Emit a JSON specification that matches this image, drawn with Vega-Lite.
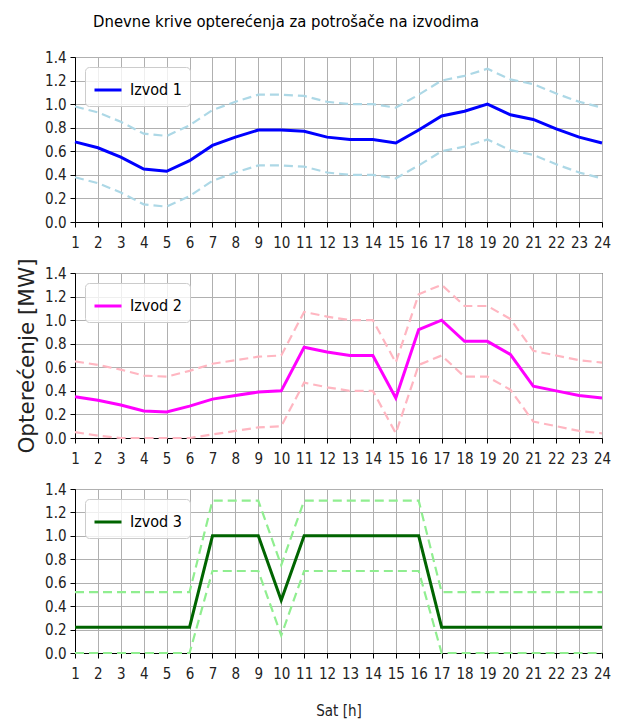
{
  "$schema": "https://vega.github.io/schema/vega-lite/v6.json",
  "background": "white",
  "padding": {"left": 16, "top": 14, "right": 10, "bottom": 5},
  "title": {"text": "Dnevne krive opterećenja za potrošače na izvodima", "anchor": "start", "dx": 77, "font": "DejaVu Sans Condensed, sans-serif", "fontSize": 16.5, "fontWeight": "normal", "color": "black", "offset": 19},
  "config": {
    "view": {"stroke": "black", "strokeWidth": 1},
    "axis": {"domainColor": "black", "tickColor": "black", "tickSize": 5, "labelFont": "DejaVu Sans Condensed, sans-serif", "labelFontSize": 15, "labelColor": "#222222", "labelOverlap": false, "labelFlush": false, "gridColor": "#b0b0b0", "gridWidth": 1, "grid": true, "titleFontWeight": "normal", "titleColor": "#222222"},
    "axisX": {"labelPadding": 8},
    "axisY": {"labelPadding": 4},
    "legend": {"orient": "top-left", "offset": 10, "padding": 8, "fillColor": "rgba(255,255,255,0.8)", "strokeColor": "#cccccc", "cornerRadius": 4, "symbolType": "stroke", "symbolSize": 729, "symbolStrokeWidth": 3, "labelFont": "DejaVu Sans Condensed, sans-serif", "labelFontSize": 16, "labelOffset": 7, "labelColor": "black", "title": null}
  },
  "datasets": {
    "d": [
      {"izvod": "Izvod 1", "sat": 1, "p": 0.68, "lo": 0.38, "hi": 0.98},
      {"izvod": "Izvod 1", "sat": 2, "p": 0.63, "lo": 0.33, "hi": 0.93},
      {"izvod": "Izvod 1", "sat": 3, "p": 0.55, "lo": 0.25, "hi": 0.85},
      {"izvod": "Izvod 1", "sat": 4, "p": 0.45, "lo": 0.15, "hi": 0.75},
      {"izvod": "Izvod 1", "sat": 5, "p": 0.43, "lo": 0.13, "hi": 0.73},
      {"izvod": "Izvod 1", "sat": 6, "p": 0.52, "lo": 0.22, "hi": 0.82},
      {"izvod": "Izvod 1", "sat": 7, "p": 0.65, "lo": 0.35, "hi": 0.95},
      {"izvod": "Izvod 1", "sat": 8, "p": 0.72, "lo": 0.42, "hi": 1.02},
      {"izvod": "Izvod 1", "sat": 9, "p": 0.78, "lo": 0.48, "hi": 1.08},
      {"izvod": "Izvod 1", "sat": 10, "p": 0.78, "lo": 0.48, "hi": 1.08},
      {"izvod": "Izvod 1", "sat": 11, "p": 0.77, "lo": 0.47, "hi": 1.07},
      {"izvod": "Izvod 1", "sat": 12, "p": 0.72, "lo": 0.42, "hi": 1.02},
      {"izvod": "Izvod 1", "sat": 13, "p": 0.70, "lo": 0.40, "hi": 1.00},
      {"izvod": "Izvod 1", "sat": 14, "p": 0.70, "lo": 0.40, "hi": 1.00},
      {"izvod": "Izvod 1", "sat": 15, "p": 0.67, "lo": 0.37, "hi": 0.97},
      {"izvod": "Izvod 1", "sat": 16, "p": 0.78, "lo": 0.48, "hi": 1.08},
      {"izvod": "Izvod 1", "sat": 17, "p": 0.90, "lo": 0.60, "hi": 1.20},
      {"izvod": "Izvod 1", "sat": 18, "p": 0.94, "lo": 0.64, "hi": 1.24},
      {"izvod": "Izvod 1", "sat": 19, "p": 1.00, "lo": 0.70, "hi": 1.30},
      {"izvod": "Izvod 1", "sat": 20, "p": 0.91, "lo": 0.61, "hi": 1.21},
      {"izvod": "Izvod 1", "sat": 21, "p": 0.87, "lo": 0.57, "hi": 1.17},
      {"izvod": "Izvod 1", "sat": 22, "p": 0.79, "lo": 0.49, "hi": 1.09},
      {"izvod": "Izvod 1", "sat": 23, "p": 0.72, "lo": 0.42, "hi": 1.02},
      {"izvod": "Izvod 1", "sat": 24, "p": 0.67, "lo": 0.37, "hi": 0.97},
      {"izvod": "Izvod 2", "sat": 1, "p": 0.35, "lo": 0.05, "hi": 0.65},
      {"izvod": "Izvod 2", "sat": 2, "p": 0.32, "lo": 0.02, "hi": 0.62},
      {"izvod": "Izvod 2", "sat": 3, "p": 0.28, "lo": 0.0, "hi": 0.58},
      {"izvod": "Izvod 2", "sat": 4, "p": 0.23, "lo": 0.0, "hi": 0.53},
      {"izvod": "Izvod 2", "sat": 5, "p": 0.22, "lo": 0.0, "hi": 0.52},
      {"izvod": "Izvod 2", "sat": 6, "p": 0.27, "lo": 0.0, "hi": 0.57},
      {"izvod": "Izvod 2", "sat": 7, "p": 0.33, "lo": 0.03, "hi": 0.63},
      {"izvod": "Izvod 2", "sat": 8, "p": 0.36, "lo": 0.06, "hi": 0.66},
      {"izvod": "Izvod 2", "sat": 9, "p": 0.39, "lo": 0.09, "hi": 0.69},
      {"izvod": "Izvod 2", "sat": 10, "p": 0.40, "lo": 0.10, "hi": 0.70},
      {"izvod": "Izvod 2", "sat": 11, "p": 0.77, "lo": 0.47, "hi": 1.07},
      {"izvod": "Izvod 2", "sat": 12, "p": 0.73, "lo": 0.43, "hi": 1.03},
      {"izvod": "Izvod 2", "sat": 13, "p": 0.70, "lo": 0.40, "hi": 1.00},
      {"izvod": "Izvod 2", "sat": 14, "p": 0.70, "lo": 0.40, "hi": 1.00},
      {"izvod": "Izvod 2", "sat": 15, "p": 0.34, "lo": 0.04, "hi": 0.64},
      {"izvod": "Izvod 2", "sat": 16, "p": 0.92, "lo": 0.62, "hi": 1.22},
      {"izvod": "Izvod 2", "sat": 17, "p": 1.00, "lo": 0.70, "hi": 1.30},
      {"izvod": "Izvod 2", "sat": 18, "p": 0.82, "lo": 0.52, "hi": 1.12},
      {"izvod": "Izvod 2", "sat": 19, "p": 0.82, "lo": 0.52, "hi": 1.12},
      {"izvod": "Izvod 2", "sat": 20, "p": 0.71, "lo": 0.41, "hi": 1.01},
      {"izvod": "Izvod 2", "sat": 21, "p": 0.44, "lo": 0.14, "hi": 0.74},
      {"izvod": "Izvod 2", "sat": 22, "p": 0.40, "lo": 0.10, "hi": 0.70},
      {"izvod": "Izvod 2", "sat": 23, "p": 0.36, "lo": 0.06, "hi": 0.66},
      {"izvod": "Izvod 2", "sat": 24, "p": 0.34, "lo": 0.04, "hi": 0.64},
      {"izvod": "Izvod 3", "sat": 1, "p": 0.22, "lo": 0.0, "hi": 0.52},
      {"izvod": "Izvod 3", "sat": 2, "p": 0.22, "lo": 0.0, "hi": 0.52},
      {"izvod": "Izvod 3", "sat": 3, "p": 0.22, "lo": 0.0, "hi": 0.52},
      {"izvod": "Izvod 3", "sat": 4, "p": 0.22, "lo": 0.0, "hi": 0.52},
      {"izvod": "Izvod 3", "sat": 5, "p": 0.22, "lo": 0.0, "hi": 0.52},
      {"izvod": "Izvod 3", "sat": 6, "p": 0.22, "lo": 0.0, "hi": 0.52},
      {"izvod": "Izvod 3", "sat": 7, "p": 1.0, "lo": 0.7, "hi": 1.3},
      {"izvod": "Izvod 3", "sat": 8, "p": 1.0, "lo": 0.7, "hi": 1.3},
      {"izvod": "Izvod 3", "sat": 9, "p": 1.0, "lo": 0.7, "hi": 1.3},
      {"izvod": "Izvod 3", "sat": 10, "p": 0.45, "lo": 0.15, "hi": 0.75},
      {"izvod": "Izvod 3", "sat": 11, "p": 1.0, "lo": 0.7, "hi": 1.3},
      {"izvod": "Izvod 3", "sat": 12, "p": 1.0, "lo": 0.7, "hi": 1.3},
      {"izvod": "Izvod 3", "sat": 13, "p": 1.0, "lo": 0.7, "hi": 1.3},
      {"izvod": "Izvod 3", "sat": 14, "p": 1.0, "lo": 0.7, "hi": 1.3},
      {"izvod": "Izvod 3", "sat": 15, "p": 1.0, "lo": 0.7, "hi": 1.3},
      {"izvod": "Izvod 3", "sat": 16, "p": 1.0, "lo": 0.7, "hi": 1.3},
      {"izvod": "Izvod 3", "sat": 17, "p": 0.22, "lo": 0.0, "hi": 0.52},
      {"izvod": "Izvod 3", "sat": 18, "p": 0.22, "lo": 0.0, "hi": 0.52},
      {"izvod": "Izvod 3", "sat": 19, "p": 0.22, "lo": 0.0, "hi": 0.52},
      {"izvod": "Izvod 3", "sat": 20, "p": 0.22, "lo": 0.0, "hi": 0.52},
      {"izvod": "Izvod 3", "sat": 21, "p": 0.22, "lo": 0.0, "hi": 0.52},
      {"izvod": "Izvod 3", "sat": 22, "p": 0.22, "lo": 0.0, "hi": 0.52},
      {"izvod": "Izvod 3", "sat": 23, "p": 0.22, "lo": 0.0, "hi": 0.52},
      {"izvod": "Izvod 3", "sat": 24, "p": 0.22, "lo": 0.0, "hi": 0.52}
    ]
  },
  "bounds": "flush",
  "spacing": 51,
  "resolve": {"scale": {"color": "independent"}, "legend": {"color": "independent"}},
  "vconcat": [
    {
      "width": 527, "height": 165,
      "data": {"name": "d"},
      "transform": [{"filter": "datum.izvod == 'Izvod 1'"}],
      "encoding": {"x": {"field": "sat", "type": "quantitative", "scale": {"domain": [1, 24], "nice": false, "zero": false}, "axis": {"values": [1,2,3,4,5,6,7,8,9,10,11,12,13,14,15,16,17,18,19,20,21,22,23,24], "format": "d", "title": null}}},
      "layer": [
        {"mark": {"type": "line", "color": "#ADD8E6", "strokeWidth": 2.2, "strokeDash": [9, 5]}, "encoding": {"y": {"field": "hi", "type": "quantitative", "scale": {"domain": [0, 1.4], "nice": false}, "axis": {"values": [0,0.2,0.4,0.6,0.8,1.0,1.2,1.4], "format": ".1f", "title": null}}}},
        {"mark": {"type": "line", "color": "#ADD8E6", "strokeWidth": 2.2, "strokeDash": [9, 5]}, "encoding": {"y": {"field": "lo", "type": "quantitative", "axis": {"values": [0,0.2,0.4,0.6,0.8,1.0,1.2,1.4], "format": ".1f", "title": null}}}},
        {"mark": {"type": "line", "strokeWidth": 3}, "encoding": {"y": {"field": "p", "type": "quantitative", "axis": {"values": [0,0.2,0.4,0.6,0.8,1.0,1.2,1.4], "format": ".1f", "title": null}}, "color": {"field": "izvod", "type": "nominal", "scale": {"range": ["#0000ff"]}}}}
      ]
    },
    {
      "width": 527, "height": 165,
      "data": {"name": "d"},
      "transform": [{"filter": "datum.izvod == 'Izvod 2'"}],
      "encoding": {"x": {"field": "sat", "type": "quantitative", "scale": {"domain": [1, 24], "nice": false, "zero": false}, "axis": {"values": [1,2,3,4,5,6,7,8,9,10,11,12,13,14,15,16,17,18,19,20,21,22,23,24], "format": "d", "title": null}}},
      "layer": [
        {"mark": {"type": "line", "color": "#FFB6C1", "strokeWidth": 2.2, "strokeDash": [9, 5]}, "encoding": {"y": {"field": "hi", "type": "quantitative", "scale": {"domain": [0, 1.4], "nice": false}, "axis": {"values": [0,0.2,0.4,0.6,0.8,1.0,1.2,1.4], "format": ".1f", "title": "Opterećenje [MW]", "titleFont": "DejaVu Sans", "titleFontSize": 21.5, "titlePadding": 6}}}},
        {"mark": {"type": "line", "color": "#FFB6C1", "strokeWidth": 2.2, "strokeDash": [9, 5]}, "encoding": {"y": {"field": "lo", "type": "quantitative", "axis": {"values": [0,0.2,0.4,0.6,0.8,1.0,1.2,1.4], "format": ".1f", "title": "Opterećenje [MW]", "titleFont": "DejaVu Sans", "titleFontSize": 21.5, "titlePadding": 6}}}},
        {"mark": {"type": "line", "strokeWidth": 3}, "encoding": {"y": {"field": "p", "type": "quantitative", "axis": {"values": [0,0.2,0.4,0.6,0.8,1.0,1.2,1.4], "format": ".1f", "title": "Opterećenje [MW]", "titleFont": "DejaVu Sans", "titleFontSize": 21.5, "titlePadding": 6}}, "color": {"field": "izvod", "type": "nominal", "scale": {"range": ["#ff00ff"]}}}}
      ]
    },
    {
      "width": 527, "height": 164,
      "data": {"name": "d"},
      "transform": [{"filter": "datum.izvod == 'Izvod 3'"}],
      "encoding": {"x": {"field": "sat", "type": "quantitative", "scale": {"domain": [1, 24], "nice": false, "zero": false}, "axis": {"values": [1,2,3,4,5,6,7,8,9,10,11,12,13,14,15,16,17,18,19,20,21,22,23,24], "format": "d", "title": "Sat [h]", "titleFont": "DejaVu Sans Condensed, sans-serif", "titleFontSize": 15, "titlePadding": 22}}},
      "layer": [
        {"mark": {"type": "line", "color": "#90EE90", "strokeWidth": 2.2, "strokeDash": [9, 5]}, "encoding": {"y": {"field": "hi", "type": "quantitative", "scale": {"domain": [0, 1.4], "nice": false}, "axis": {"values": [0,0.2,0.4,0.6,0.8,1.0,1.2,1.4], "format": ".1f", "title": null}}}},
        {"mark": {"type": "line", "color": "#90EE90", "strokeWidth": 2.2, "strokeDash": [9, 5]}, "encoding": {"y": {"field": "lo", "type": "quantitative", "axis": {"values": [0,0.2,0.4,0.6,0.8,1.0,1.2,1.4], "format": ".1f", "title": null}}}},
        {"mark": {"type": "line", "strokeWidth": 3}, "encoding": {"y": {"field": "p", "type": "quantitative", "axis": {"values": [0,0.2,0.4,0.6,0.8,1.0,1.2,1.4], "format": ".1f", "title": null}}, "color": {"field": "izvod", "type": "nominal", "scale": {"range": ["#006400"]}}}}
      ]
    }
  ]
}
